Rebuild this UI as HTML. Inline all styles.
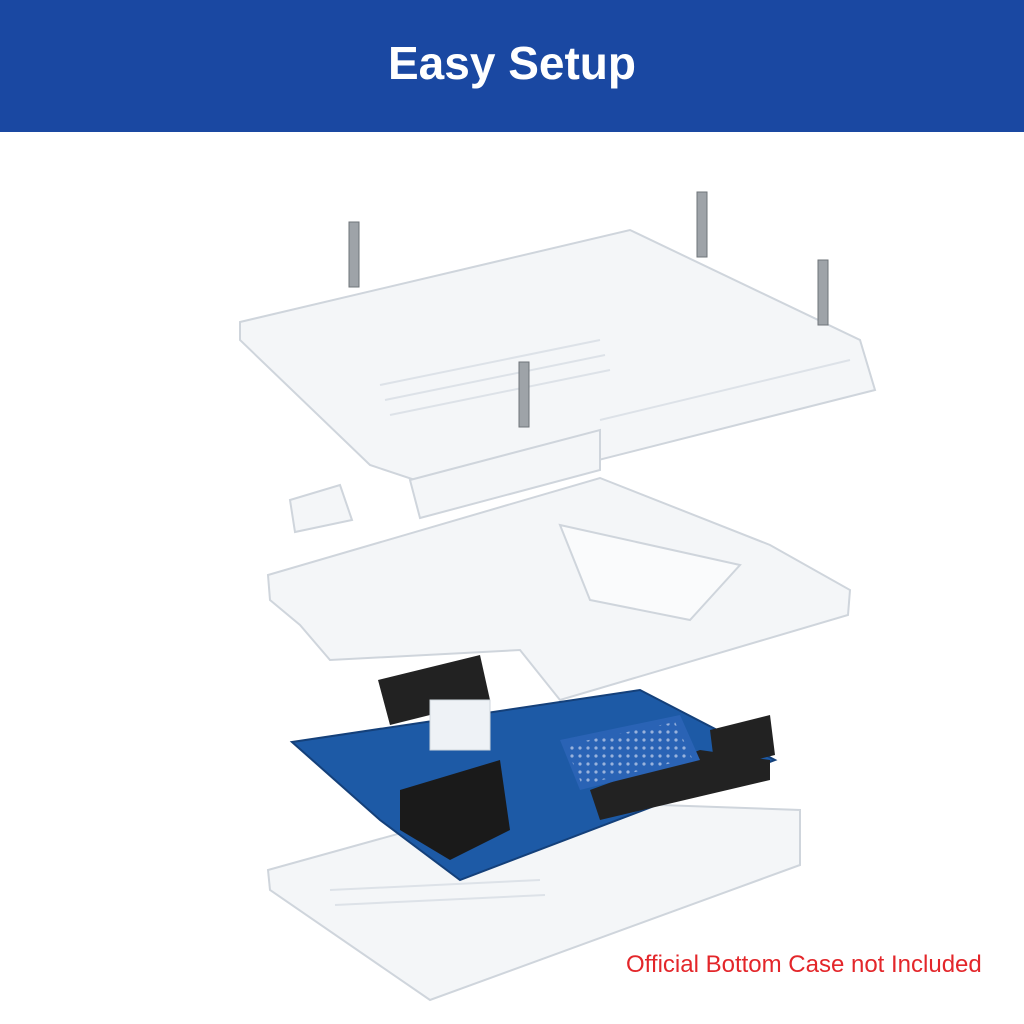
<!DOCTYPE html>
<html><head><meta charset="utf-8"><style>
html,body{margin:0;padding:0;width:1024px;height:1024px;background:#fff;overflow:hidden}
.hdr{position:absolute;left:0;top:0;width:1024px;height:132px;background:#1a48a2}
.hdr h1{margin:0;position:absolute;width:100%;top:36px;text-align:center;color:#fff;font:bold 46px "Liberation Sans",sans-serif}
.note{position:absolute;left:626px;top:951px;color:#e3262a;font:24px "Liberation Sans",sans-serif;white-space:nowrap}
svg{position:absolute;left:0;top:0}
</style></head><body>
<div class="hdr"><h1>Easy Setup</h1></div>
<svg width="1024" height="1024">
<g fill="#f4f6f8" stroke="#cfd5dc" stroke-width="2">
 <polygon points="240,322 630,230 860,340 875,390 460,495 370,465 240,340"/>
 <polygon points="410,480 600,430 600,470 420,518" />
 <polygon points="290,500 340,485 352,520 295,532"/>
 <polygon points="268,575 600,478 770,545 850,590 848,615 560,700 520,650 330,660 300,625 270,600"/>
 <polygon points="560,525 740,565 690,620 590,600" fill="#fafbfc"/>
 <polygon points="268,870 520,800 800,810 800,865 430,1000 270,890"/>
</g>
<g stroke="#dde2e8" stroke-width="2" fill="none">
 <line x1="380" y1="385" x2="600" y2="340"/><line x1="385" y1="400" x2="605" y2="355"/>
 <line x1="390" y1="415" x2="610" y2="370"/><line x1="600" y1="420" x2="850" y2="360"/>
 <line x1="330" y1="890" x2="540" y2="880"/><line x1="335" y1="905" x2="545" y2="895"/>
</g>
<polygon points="292,742 640,690 775,760 460,880 380,820" fill="#1d5aa6" stroke="#14407a" stroke-width="2"/>
<polygon points="590,790 700,750 770,760 770,780 600,820" fill="#222"/>
<polygon points="710,730 770,715 775,755 715,770" fill="#222"/>
<polygon points="378,680 480,655 490,700 390,725" fill="#222"/>
<polygon points="400,790 500,760 510,830 450,860 400,830" fill="#1a1a1a"/>
<rect x="430" y="700" width="60" height="50" fill="#eef2f6" stroke="#cfd5dc"/>
<polygon points="560,740 680,715 700,760 580,790" fill="#2a63b5"/>
<g fill="#c8d4ec" opacity="0.7">
 <pattern id="d" width="8" height="8" patternUnits="userSpaceOnUse"><circle cx="4" cy="4" r="1.6"/></pattern>
 <polygon points="565,745 675,722 692,758 582,785" fill="url(#d)"/>
</g>
<g fill="#9ea3a8" stroke="#6f747a">
 <rect x="349" y="222" width="10" height="65"/><rect x="697" y="192" width="10" height="65"/>
 <rect x="818" y="260" width="10" height="65"/><rect x="519" y="362" width="10" height="65"/>
</g>
</svg>
<div class="note">Official Bottom Case not Included</div>
</body></html>
